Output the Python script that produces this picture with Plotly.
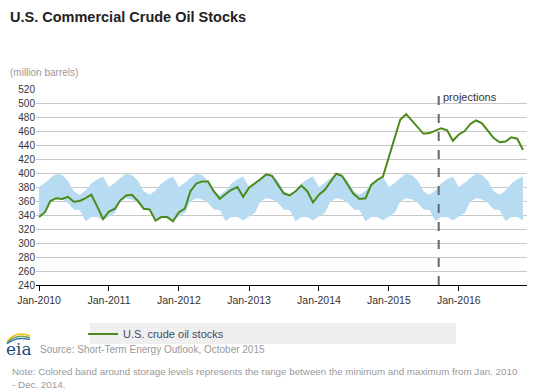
import plotly.graph_objects as go
import pandas as pd

# ---- data ----
dates = pd.date_range("2010-01-01", "2016-12-01", freq="MS")

stocks = [
    # 2010
    337, 344, 360, 364, 363, 366, 359, 360, 364, 369, 352, 334,
    # 2011
    345, 349, 361, 368, 369, 360, 349, 348, 332, 337, 337, 331,
    # 2012
    344, 349, 374, 385, 388, 388, 374, 363, 370, 376, 380, 366,
    # 2013
    379, 385, 391, 398, 396, 383, 371, 368, 374, 382, 374, 358,
    # 2014
    369, 376, 387, 399, 396, 383, 370, 363, 364, 383, 390, 395,
    # 2015
    424, 450, 476, 484, 475, 465, 456, 457, 460, 464, 461, 446,
    # 2016
    455, 460, 470, 475, 471, 461, 450, 444, 445, 451, 449, 433,
]

# min / max band by calendar month (Jan..Dec), range Jan 2010 - Dec 2014
band_max_month = [380, 386, 393, 399, 397, 389, 374, 369, 375, 385, 391, 395]
band_min_month = [338, 343, 359, 364, 362, 357, 348, 347, 331, 337, 337, 332]
band_max = [band_max_month[d.month - 1] for d in dates]
band_min = [band_min_month[d.month - 1] for d in dates]

x_tickvals = pd.date_range("2010-01-01", "2016-01-01", freq="YS")
x_ticktext = [f"Jan-{d.year}" for d in x_tickvals]
y_tickvals = list(range(240, 521, 20))
projection_start = "2015-09-18"

# ---- figure ----
LINE_GREEN = "#4a8a1a"
BAND_BLUE = "#b7dcf2"

fig = go.Figure()
fig.add_trace(go.Scatter(x=dates, y=band_min, mode="lines",
                         line=dict(width=0, color=BAND_BLUE),
                         showlegend=False, hoverinfo="skip"))
fig.add_trace(go.Scatter(x=dates, y=band_max, mode="lines",
                         line=dict(width=0, color=BAND_BLUE),
                         fill="tonexty", fillcolor=BAND_BLUE,
                         showlegend=False, hoverinfo="skip"))
fig.add_trace(go.Scatter(x=dates, y=stocks, mode="lines",
                         name="U.S. crude oil stocks",
                         line=dict(color=LINE_GREEN, width=2)))

fig.add_shape(type="line", xref="x", yref="paper",
              x0=projection_start, x1=projection_start, y0=0, y1=1,
              line=dict(color="#666666", width=2, dash="dash"))
fig.add_annotation(x=projection_start, xref="x", y=1, yref="paper",
                   text="projections", showarrow=False,
                   xanchor="left", yanchor="top", xshift=2, yshift=0,
                   font=dict(size=11, color="#333333"))

# legend background
fig.add_shape(type="rect", xref="paper", yref="paper",
              x0=(90 - 36) / 491, x1=(456 - 36) / 491,
              y0=(285 - 344) / 196, y1=(285 - 323) / 196,
              fillcolor="#efefef", line=dict(width=0), layer="below")

# title / labels / notes
fig.add_annotation(text="<b>U.S. Commercial Crude Oil Stocks</b>",
                   xref="paper", yref="paper",
                   x=(8 - 36) / 491, y=(285 - 17) / 196,
                   xanchor="left", yanchor="middle", showarrow=False,
                   font=dict(size=14.5, color="#222222"))
fig.add_annotation(text="(million barrels)",
                   xref="paper", yref="paper",
                   x=(8 - 36) / 491, y=(285 - 72) / 196,
                   xanchor="left", yanchor="middle", showarrow=False,
                   font=dict(size=10, color="#999999"))
fig.add_annotation(text="Source: Short-Term Energy Outlook, October 2015",
                   xref="paper", yref="paper",
                   x=(38 - 36) / 491, y=(285 - 349) / 196,
                   xanchor="left", yanchor="middle", showarrow=False,
                   font=dict(size=10, color="#999999"))
fig.add_annotation(text="Note: Colored band around storage levels represents the range between the minimum and maximum from Jan. 2010<br>- Dec. 2014.",
                   xref="paper", yref="paper",
                   x=(10 - 36) / 491, y=(285 - 378) / 196,
                   xanchor="left", yanchor="middle", align="left",
                   showarrow=False,
                   font=dict(size=9.8, color="#999999"))
# eia logo text
fig.add_annotation(text="eia", xref="paper", yref="paper",
                   x=(4 - 36) / 491, y=(285 - 349) / 196,
                   xanchor="left", yanchor="middle", showarrow=False,
                   font=dict(size=17, color="#1b4a7a", family="DejaVu Serif"))
for col, dy in (("#f2c200", 0), ("#6aa84f", 3), ("#3c78b5", 6)):
    fig.add_shape(type="path", xref="paper", yref="paper",
                  path=f"M {(7-36)/491} {(285-(342+dy*0.3))/196} Q {(16-36)/491} {(285-(330+dy))/196} {(30-36)/491} {(285-(336+dy*0.6))/196}",
                  line=dict(color=col, width=1.5))

fig.update_layout(
    width=538, height=390,
    margin=dict(l=36, r=11, t=89, b=105),
    paper_bgcolor="white", plot_bgcolor="white",
    font=dict(family="Liberation Sans, Arial, sans-serif", size=10, color="#333333"),
    showlegend=True,
    legend=dict(x=(83 - 36) / 491, y=(285 - 334) / 196,
                xanchor="left", yanchor="middle",
                bgcolor="rgba(0,0,0,0)", font=dict(size=11, color="#3d4d66"),
                itemwidth=30),
    xaxis=dict(range=["2009-12-16", "2016-12-22"],
               tickvals=x_tickvals, ticktext=x_ticktext,
               showgrid=False, showline=True, linecolor="#000000", linewidth=1,
               ticks="outside", ticklen=5, tickcolor="#000000",
               tickfont=dict(size=10.5, color="#333333"), zeroline=False),
    yaxis=dict(range=[240, 520], tickvals=y_tickvals,
               showgrid=True, gridcolor="#c8c8c8", gridwidth=1,
               showline=False, zeroline=False, ticks="",
               tickfont=dict(size=10, color="#333333")),
)

fig.write_html("out.html",
               config={"displayModeBar": False},
               post_script="document.body.style.margin='0';document.body.style.overflow='hidden';")
